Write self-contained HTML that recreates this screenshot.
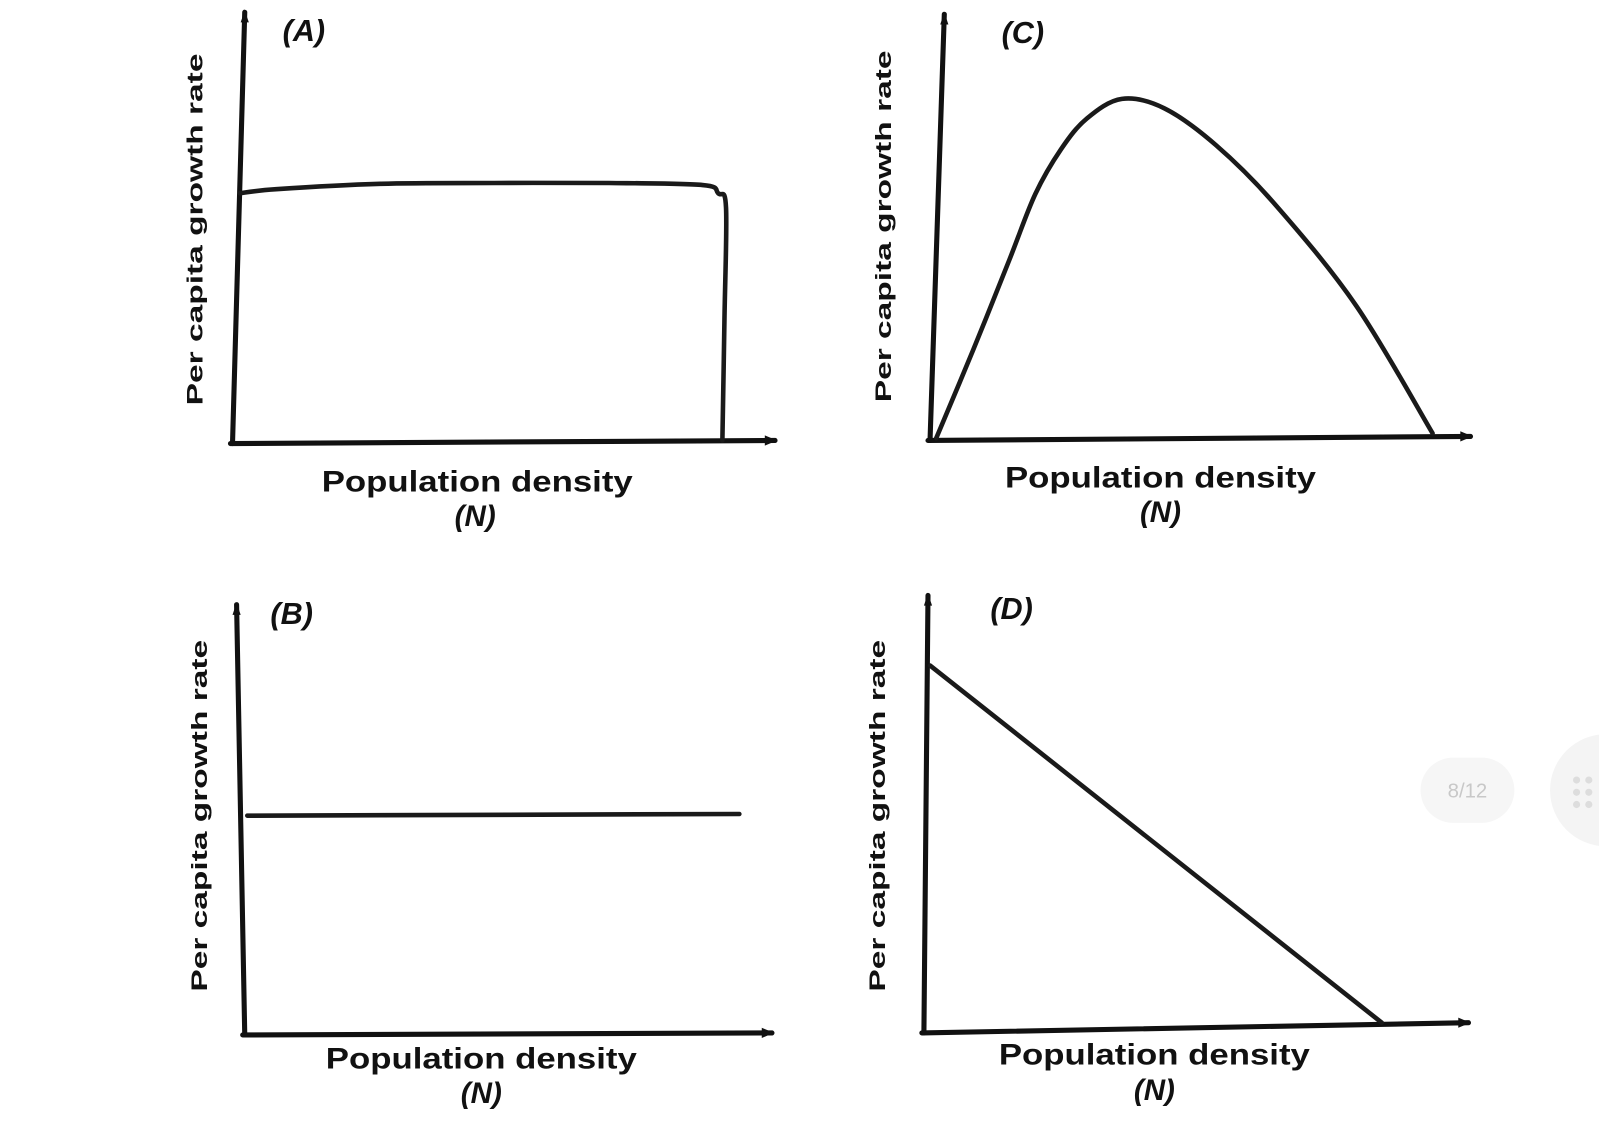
<!DOCTYPE html>
<html><head><meta charset="utf-8"><style>
html,body{margin:0;padding:0;background:#fff;width:1599px;height:1142px;overflow:hidden}
svg{display:block}
text{font-family:"Liberation Sans",sans-serif;font-weight:bold;fill:#111}
</style></head><body>
<svg id="fig" width="1599" height="1142" viewBox="0 0 1568 1120" preserveAspectRatio="none">
<g id="axes"></g>
<g id="marks"></g>
<g id="labels"></g>
<g>
<rect x="1393" y="743" width="92" height="64" rx="32" fill="#f6f6f6"/>
<text x="1439" y="782" text-anchor="middle" style="font-weight:normal;font-size:20px;fill:#c8c8c8">8/12</text>
</g>
<g>
<circle cx="1575" cy="775" r="55" fill="#f4f4f4"/>
<circle cx="1546" cy="765" r="3.5" fill="#ddd"/><circle cx="1558" cy="765" r="3.5" fill="#ddd"/>
<circle cx="1546" cy="777" r="3.5" fill="#ddd"/><circle cx="1558" cy="777" r="3.5" fill="#ddd"/>
<circle cx="1546" cy="789" r="3.5" fill="#ddd"/><circle cx="1558" cy="789" r="3.5" fill="#ddd"/>
</g>
</svg>
<script>
// Panel A data
const aX = [1, 8, 28, 50, 72, 90, 93, 94.5, 94.2, 93.8];
const aY = [60.5, 61.5, 62.8, 63, 63, 62.5, 60.5, 57, 30, 0.5];
// Panel C data
const cX = [0.8, 8, 15, 20, 25, 30, 36.8, 45, 55, 66.4, 82.2, 97];
const cY = [0.3, 22, 44, 60, 71, 78.5, 83.3, 81, 72, 57.6, 32.7, 1.5];
// Panel B data
const bX = [0.5, 97];
const bY = [51.7, 52.1];
// Panel D data
const dX = [0.8, 87.3];
const dY = [85, 1.2];

const NS = "http://www.w3.org/2000/svg";
const panels = [
  {id:"a", letter:"(A)", x0:230, x1:740, yb:434, yt:30, ax:{top:[240,12], orig:[228,435], end:[760,432]}, lbl:[298,40], yt2:[193,225], xt:[468,482], nt:[466,516], xs:aX, ys:aY, smooth:true},
  {id:"c", letter:"(C)", x0:914, x1:1420, yb:431, yt:30, ax:{top:[926,14], orig:[912,432], end:[1442,428]}, lbl:[1003,42], yt2:[868,222], xt:[1138,478], nt:[1138,512], xs:cX, ys:cY, smooth:true},
  {id:"b", letter:"(B)", x0:240, x1:740, yb:1014, yt:600, ax:{top:[232,593], orig:[240,1015], end:[757,1013]}, lbl:[286,612], yt2:[197,800], xt:[472,1048], nt:[472,1082], xs:bX, ys:bY, smooth:false},
  {id:"d", letter:"(D)", x0:908, x1:1420, yb:1008, yt:590, ax:{top:[910,584], orig:[906,1013], end:[1440,1003]}, lbl:[992,607], yt2:[862,800], xt:[1132,1044], nt:[1132,1079], xs:dX, ys:dY, smooth:false}
];
const axesG = document.getElementById('axes');
const marksG = document.getElementById('marks');
const labelsG = document.getElementById('labels');
function mk(tag, attrs, parent){const e=document.createElementNS(NS,tag);for(const k in attrs)e.setAttribute(k,attrs[k]);parent.appendChild(e);return e;}
panels.forEach(p=>{
  const sx = v => p.x0 + (p.x1-p.x0)*v/100;
  const sy = v => p.yb - (p.yb-p.yt)*v/100;
  const a = p.ax;
  const yl = mk('line',{x1:a.orig[0],y1:a.orig[1],x2:a.top[0],y2:a.top[1],stroke:'#111','stroke-width':5,'stroke-linecap':'round'},axesG);
  
  
  const xl = mk('line',{x1:a.orig[0]-2,y1:a.orig[1],x2:a.end[0],y2:a.end[1],stroke:'#111','stroke-width':5,'stroke-linecap':'round'},axesG);
  
  
  const ah = mk('path',{d:`M${a.end[0]+2},${a.end[1]} l-12,-5 l0,10 z`,fill:'#111'},axesG);
  
  
  const av = mk('path',{d:`M${a.top[0]},${a.top[1]-2} l-4,12 l8,0 z`,fill:'#111'},axesG);
  
  
  const pts = p.xs.map((x,i)=>[sx(x), sy(p.ys[i])]);
  let d = `M${pts[0][0]},${pts[0][1]}`;
  if(p.smooth && pts.length>2){
    for(let i=0;i<pts.length-1;i++){
      const p0=pts[Math.max(0,i-1)], p1=pts[i], p2=pts[i+1], p3=pts[Math.min(pts.length-1,i+2)];
      const c1=[p1[0]+(p2[0]-p0[0])/6, p1[1]+(p2[1]-p0[1])/6];
      const c2=[p2[0]-(p3[0]-p1[0])/6, p2[1]-(p3[1]-p1[1])/6];
      d += ` C${c1[0]},${c1[1]} ${c2[0]},${c2[1]} ${p2[0]},${p2[1]}`;
    }
  } else {
    for(let i=1;i<pts.length;i++) d += ` L${pts[i][0]},${pts[i][1]}`;
  }
  const c = mk('path',{d:d,fill:'none',stroke:'#1a1a1a','stroke-width':4.5,'stroke-linejoin':'round','stroke-linecap':'round'},marksG);
  
  
  const t1 = mk('text',{x:p.lbl[0],y:p.lbl[1],'text-anchor':'middle','font-size':30,'font-style':'italic'},labelsG);
  t1.textContent = p.letter;
  
  
  const t2 = mk('text',{x:p.yt2[0],y:p.yt2[1],'text-anchor':'middle','font-size':22,transform:`rotate(-90 ${p.yt2[0]} ${p.yt2[1]})`,'dominant-baseline':'middle','textLength':345,'lengthAdjust':'spacingAndGlyphs'},labelsG);
  t2.textContent = 'Per capita growth rate';
  
  
  const t3 = mk('text',{x:p.xt[0],y:p.xt[1],'text-anchor':'middle','font-size':29,'textLength':305,'lengthAdjust':'spacingAndGlyphs'},labelsG);
  t3.textContent = 'Population density';
  
  
  const t4 = mk('text',{x:p.nt[0],y:p.nt[1],'text-anchor':'middle','font-size':29,'font-style':'italic'},labelsG);
  t4.textContent = '(N)';
  
  
});
</script>
</body></html>
